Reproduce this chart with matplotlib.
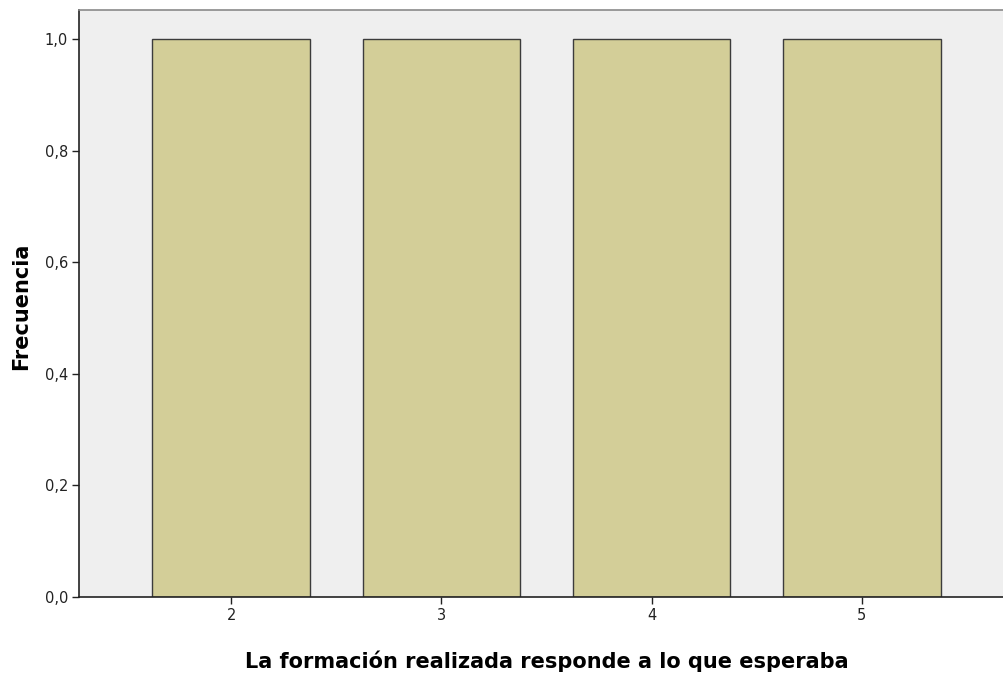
import matplotlib
matplotlib.use("Agg")
import matplotlib.pyplot as plt
from matplotlib.ticker import FuncFormatter

categories = ["2", "3", "4", "5"]
values = [1.0, 1.0, 1.0, 1.0]
yticks = [0.0, 0.2, 0.4, 0.6, 0.8, 1.0]
xlabel = "La formación realizada responde a lo que esperaba"
ylabel = "Frecuencia"

fig = plt.figure(figsize=(10.04, 6.75), dpi=100)
ax = fig.add_axes([79/1004, 78/675, 935/1004, 587/675])
ax.set_facecolor("#EFEFEF")
x = [int(c) for c in categories]
ax.bar(x, values, width=0.75, color="#D3CE98", edgecolor="#3C3C3C", linewidth=1.0, zorder=2)
ax.set_xlim(2 - 0.724, 5 + 0.724)
ax.set_ylim(0, 1.052)
ax.set_xticks(x)
ax.set_xticklabels(categories)
ax.set_yticks(yticks)
ax.yaxis.set_major_formatter(FuncFormatter(lambda v, p: f"{v:.1f}".replace(".", ",")))
ax.tick_params(axis="both", direction="out", length=5, width=1, labelsize=10.5, colors="#222222", pad=3)
for s in ["left", "bottom"]:
    ax.spines[s].set_color("#222222")
    ax.spines[s].set_linewidth(1.2)
ax.spines["top"].set_color("#8A8A8A")
ax.spines["top"].set_linewidth(1.2)
ax.spines["right"].set_visible(False)
ax.set_xlabel(xlabel, fontsize=15, fontweight="bold")
ax.set_ylabel(ylabel, fontsize=15, fontweight="bold")
ax.xaxis.label.set_va("center")
ax.xaxis.set_label_coords((547 - 79) / 935, (597 - 661) / 587)
ax.yaxis.label.set_rotation_mode("default")
ax.yaxis.label.set_va("center")
ax.yaxis.label.set_ha("center")
ax.yaxis.set_label_coords((21 - 79) / 935, (597 - 306) / 587)
fig.savefig("out.png", dpi=100)
